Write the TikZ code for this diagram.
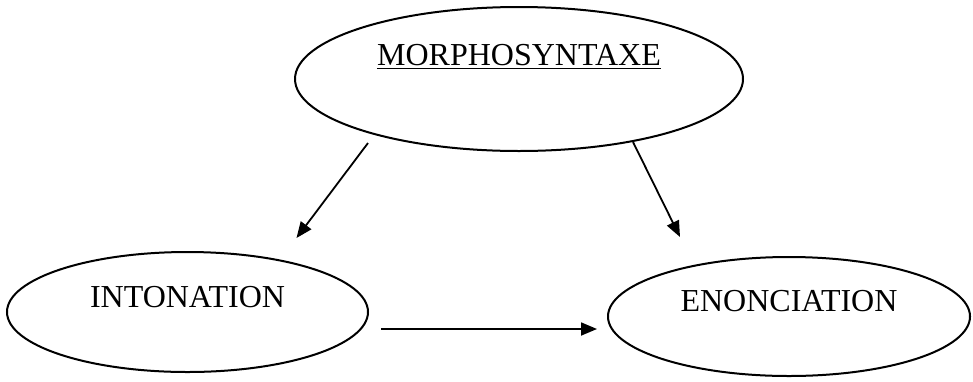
\documentclass[tikz,border=0pt]{standalone}
\usepackage{fontspec}
\setmainfont{Liberation Serif}
\usetikzlibrary{shapes.geometric,arrows.meta,calc}
\begin{document}
\begin{tikzpicture}[x=1pt,y=-1pt,
  oval/.style={draw,ellipse,line width=2pt,inner sep=0pt},
  word/.style={inner sep=0pt,anchor=base,font=\fontsize{32}{36}\selectfont},
  link/.style={line width=1.8pt,-{Triangle[length=16pt,width=13pt]}}]
\useasboundingbox (0,0) rectangle (973,381);
\node[oval,minimum width=448pt,minimum height=144pt] (morpho) at (519,79) {};
\node[oval,minimum width=361pt,minimum height=120pt] (inton) at (187.5,312) {};
\node[oval,minimum width=362pt,minimum height=119pt] (enon) at (789,316.5) {};
\node[word] (tm) at ($(morpho.center)+(0,-14)$) {MORPHOSYNTAXE};
\draw[line width=1.8pt] ($(tm.base west)+(0,3.5)$) -- ($(tm.base east)+(0,3.5)$);
\node[word] (ti) at ($(inton.center)+(0,-5)$) {INTONATION};
\node[word] (te) at ($(enon.center)+(0,-5.5)$) {ENONCIATION};
\coordinate (a1) at ($(morpho.center)+(-151,64)$);
\coordinate (b1) at ($(inton.center)+(109,-74)$);
\coordinate (a2) at ($(morpho.center)+(114,63)$);
\coordinate (b2) at ($(enon.center)+(-109,-79.5)$);
\coordinate (a3) at ($(inton.east)+(12,17)$);
\coordinate (b3) at ($(enon.west)+(-10,12.5)$);
\draw[link] (a1) -- (b1);
\draw[link] (a2) -- (b2);
\draw[link] (a3) -- (b3);
\end{tikzpicture}
\end{document}
